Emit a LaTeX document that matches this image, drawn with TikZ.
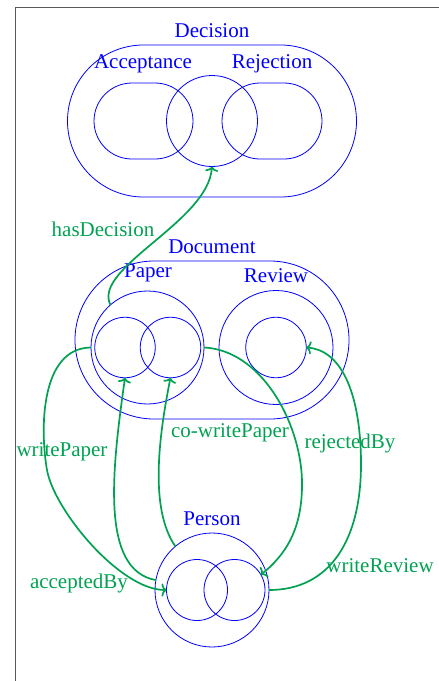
\documentclass[tikz,border=0pt]{standalone}
\usepackage{fontspec}
\setmainfont{Liberation Serif}
\usetikzlibrary{arrows.meta}
\definecolor{edgegreen}{RGB}{0,162,82}
\begin{document}
\begin{tikzpicture}[x=1pt,y=-1pt,
  set/.style={draw=blue, line width=0.8pt, inner sep=0pt, outer sep=0pt},
  stad/.style={set, rectangle},
  ring/.style={set, circle},
  settext/.style={text=blue, font=\fontsize{21}{25}\selectfont, inner sep=0pt},
  reltext/.style={text=edgegreen, font=\fontsize{21}{25}\selectfont, inner sep=0pt},
  rel/.style={draw=edgegreen, line width=1.7pt, -{To[length=5pt,width=13pt]}}]
\useasboundingbox (0,0) rectangle (439,681);
\draw[gray!70!black, line width=0.9pt] (15,681) -- (15,7) -- (439,7);

% Decision
\node[stad, minimum width=289pt, minimum height=152pt, rounded corners=76pt] (dec) at (212,121) {};
\node[stad, minimum width=99pt, minimum height=76pt, rounded corners=38pt] (acc) at (143.5,121) {};
\node[stad, minimum width=100pt, minimum height=76pt, rounded corners=38pt] (rej) at (272,121) {};
\node[ring, minimum size=91pt] (decmid) at (212,121) {};
\node[settext] (declab) at (212,31) {Decision};
\node[settext] (acclab) at (143,64) {Acceptance};
\node[settext] (rejlab) at (272,64) {Rejection};

% Document
\node[stad, minimum width=274pt, minimum height=158pt, rounded corners=79pt] (doc) at (212,340) {};
\node[ring, minimum size=113pt] (paperO) at (147.5,347.5) {};
\node[ring, minimum size=60.5pt] (paperL) at (125,347.5) {};
\node[ring, minimum size=60.5pt] (paperR) at (170.5,347.5) {};
\node[ring, minimum size=114pt] (revO) at (276,347.5) {};
\node[ring, minimum size=60.5pt] (revI) at (276,347.5) {};
\node[settext] (doclab) at (212,247) {Document};
\node[settext] (paplab) at (148,273) {Paper};
\node[settext] (revlab) at (276,276) {Review};

% Person
\node[ring, minimum size=114pt] (perO) at (212,590) {};
\node[ring, minimum size=61pt] (perL) at (197,590) {};
\node[ring, minimum size=61pt] (perR) at (234.5,590) {};
\node[settext] (perlab) at (212,519) {Person};

% Relations
\draw[rel] (paperO.131) .. controls (92,268) and (208,222) .. (decmid.south);
\draw[rel] (paperO.west) .. controls (40,348) and (40,430) .. (47,470)
  .. controls (54,510) and (120,590) .. (perL.west);
\draw[rel] (perO.170) .. controls (100,570) and (112,470) .. (paperL.south);
\draw[rel] (perO.130) .. controls (150,510) and (158,440) .. (paperR.south);
\draw[rel] (paperO.east) .. controls (260,350) and (300,420) .. (302,480)
  .. controls (303,530) and (285,555) .. (perR.30);
\draw[rel] (perO.east) .. controls (330,590) and (362,540) .. (361,460)
  .. controls (360,390) and (340,350) .. (revI.east);

\node[reltext] (hasdec) at (103,229) {hasDecision};
\node[reltext] (wpap) at (62,452) {writePaper};
\node[reltext] (cowpap) at (230,433) {co-writePaper};
\node[reltext] (rejby) at (350,443) {rejectedBy};
\node[reltext] (accby) at (79,583) {acceptedBy};
\node[reltext] (wrev) at (380,566) {writeReview};
\end{tikzpicture}
\end{document}
